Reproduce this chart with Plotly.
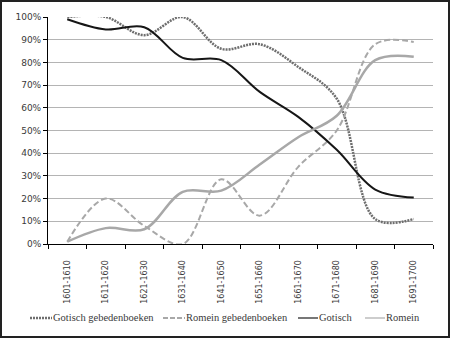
import plotly.graph_objects as go

# Decades on the category axis
periods = ["1601-1610", "1611-1620", "1621-1630", "1631-1640", "1641-1650",
           "1651-1660", "1661-1670", "1671-1680", "1681-1690", "1691-1700"]

# Share of each typeface per decade (percent)
gotisch_gebedenboeken = [100, 100, 92, 100, 86, 88, 78, 64, 11, 11]
romein_gebedenboeken = [1, 20, 8, 0, 28.5, 12.5, 34, 50, 88, 89]
gotisch = [99, 94.5, 95.5, 82, 81, 67, 56, 41.5, 24, 20.5]
romein = [1, 7, 6.5, 23, 23.5, 35, 47, 56.5, 81, 82.5]

series_names = ["Gotisch gebedenboeken", "Romein gebedenboeken", "Gotisch", "Romein"]

W, H = 450, 338
ML, MR, MT, MB = 48, 17, 17, 94
PW, PH = W - ML - MR, H - MT - MB


def px_x(p):
    return (p - ML) / PW


def px_y(p):
    return (MT + PH - p) / PH


styles = [
    dict(color="#6e6e6e", width=2.5, dash="2px,1px"),
    dict(color="#a8a8a8", width=2, dash="6px,3px"),
    dict(color="#161616", width=2, dash="solid"),
    dict(color="#a8a8a8", width=2.5, dash="solid"),
]
values = [gotisch_gebedenboeken, romein_gebedenboeken, gotisch, romein]

fig = go.Figure()
for name, vals, st in zip(series_names, values, styles):
    fig.add_trace(go.Scatter(
        x=periods, y=vals, name=name, mode="lines",
        line=dict(color=st["color"], width=st["width"], dash=st["dash"],
                  shape="spline", smoothing=1)))

# Legend row below the axis labels: sample line followed by the series name
legend_styles = [
    dict(color="#6e6e6e", width=2.5, dash="2px,1px"),
    dict(color="#a8a8a8", width=2, dash="5px,2px"),
    dict(color="#4a4a4a", width=1.5, dash="solid"),
    dict(color="#bdbdbd", width=1.5, dash="solid"),
]
legend_x = [(30, 52), (163, 185), (298, 318), (365, 385)]
legend_y = 318
shapes = []
annotations = []
for name, st, (xa, xb) in zip(series_names, legend_styles, legend_x):
    shapes.append(dict(type="line", xref="paper", yref="paper",
                       x0=px_x(xa), x1=px_x(xb), y0=px_y(legend_y), y1=px_y(legend_y),
                       line=st))
    annotations.append(dict(text=name, xref="paper", yref="paper",
                            x=px_x(xb), y=px_y(legend_y), xanchor="left", yanchor="middle",
                            showarrow=False, xshift=-1,
                            font=dict(family="Liberation Serif", size=10.5, color="#3a3a3a")))

# Outer frame around the whole figure
shapes.append(dict(
    type="rect", xref="paper", yref="paper",
    x0=px_x(1), x1=px_x(449), y0=px_y(337), y1=px_y(1),
    line=dict(color="#222222", width=2), fillcolor="rgba(0,0,0,0)", layer="above"))

fig.update_layout(
    width=W, height=H,
    margin=dict(l=ML, r=MR, t=MT, b=MB, pad=0),
    paper_bgcolor="white", plot_bgcolor="white",
    showlegend=False,
    xaxis=dict(
        type="category", range=[-0.5, len(periods) - 0.5],
        tickson="boundaries", ticks="outside", ticklen=4,
        tickcolor="#000", tickwidth=1, showline=True, linecolor="#000", linewidth=1,
        showgrid=False, tickangle=-90, ticklabelstandoff=12,
        tickfont=dict(family="DejaVu Sans", size=8, color="#3a3a3a"),
    ),
    yaxis=dict(
        range=[0, 100], dtick=10, ticksuffix="%", ticks="outside", ticklen=4,
        tickcolor="#000", tickwidth=1, showline=True, linecolor="#000", linewidth=1,
        showgrid=True, gridcolor="#b4b4b4", gridwidth=1, zeroline=False,
        tickfont=dict(family="DejaVu Sans", size=9, color="#3a3a3a"),
    ),
    shapes=shapes,
    annotations=annotations,
)

fig.write_html("out.html")
